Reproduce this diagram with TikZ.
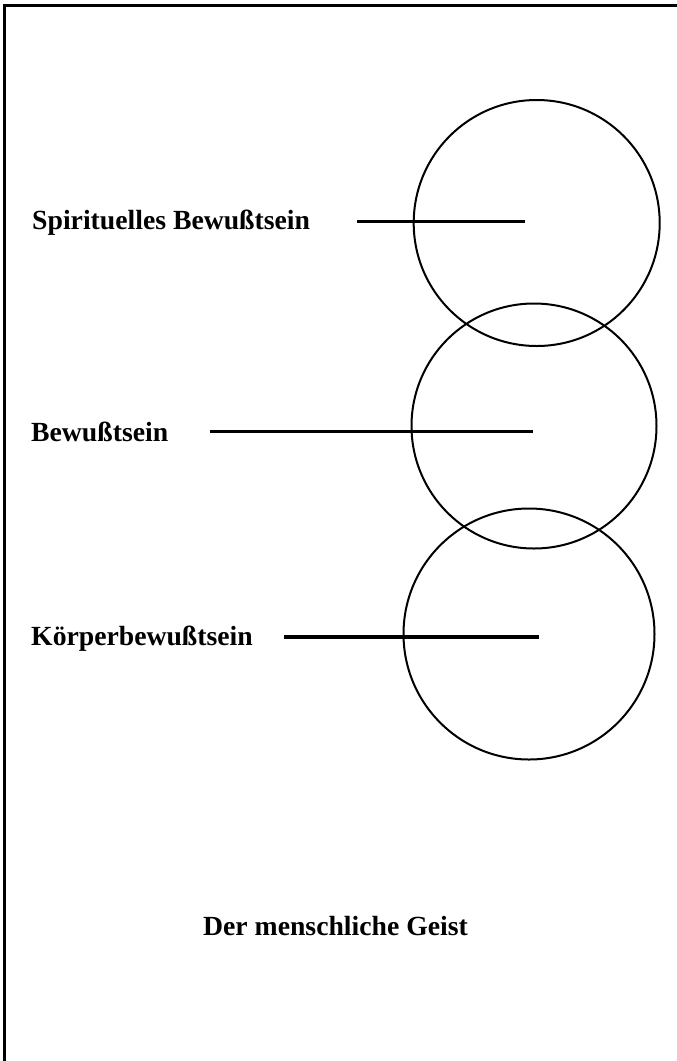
\documentclass[tikz,border=0pt]{standalone}
\usepackage{fontspec}
\setmainfont{Liberation Serif}
\usepackage{tikz}
\usetikzlibrary{positioning}

\begin{document}
\begin{tikzpicture}[
    x=1pt, y=-1pt,
    font=\fontsize{27.7}{30}\selectfont\bfseries,
    ring/.style={
        draw=black,
        circle,
        inner sep=0pt,
        outer sep=0pt,
        line width=2pt
    },
    lead/.style={
        draw=black,
        line width=3.2pt
    },
    label/.style={
        anchor=base west,
        inner sep=0pt
    }
]

% ============================================================
% Frame
% ============================================================

\useasboundingbox (0,0) rectangle (677,1061);
\clip (0,0) rectangle (677,1061);
\draw[line width=3pt] (4.5,1100) -- (4.5,5.5) -- (720,5.5);

% ============================================================
% Three rings
% ============================================================

\node[ring, minimum size=246pt] (c1) at (536.7,223) {};
\node[ring, minimum size=245pt] (c2) at (534,426) {};
\node[ring, minimum size=251pt] (c3) at (529,634) {};

% ============================================================
% Labels and leads
% ============================================================

\node[label] (t1) at (32,229) {Spirituelles Bewußtsein};
\node[label] (t2) at (31,441) {Bewußtsein};
\node[label] (t3) at (31,645) {Körperbewußtsein};

\coordinate (s1) at (357,221.7);
\coordinate (e1) at (525,221.7);
\coordinate (s2) at (210,431.3);
\coordinate (e2) at (533,431.3);
\coordinate (s3) at (284,637);
\coordinate (e3) at (539,637);

\foreach \i in {1,2,3} {
    \draw[lead] (s\i) -- (e\i);
}

\node[label] (title) at (203,935) {Der menschliche Geist};
\end{tikzpicture}
\end{document}
